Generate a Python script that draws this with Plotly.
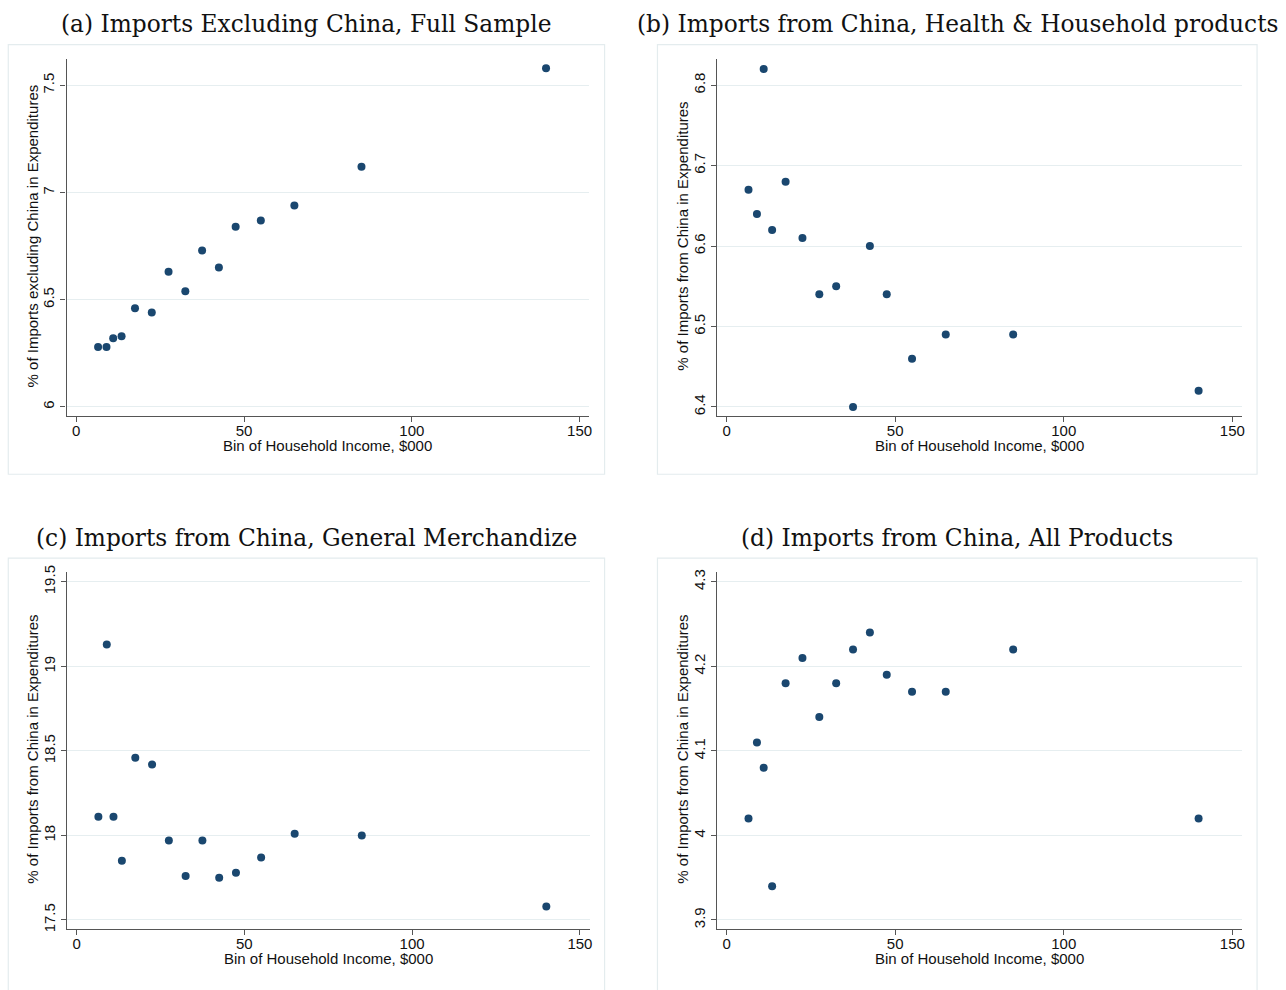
import plotly.graph_objects as go

# Household income bins ($000, bin midpoints)
income_bins = [6.5, 9, 11, 13.5, 17.5, 22.5, 27.5, 32.5, 37.5, 42.5, 47.5, 55, 65, 85, 140]

# Share of imports in expenditures (%) by income bin
imports_ex_china_full = [6.28, 6.28, 6.32, 6.33, 6.46, 6.44, 6.63, 6.54, 6.73, 6.65, 6.84, 6.87, 6.94, 7.12, 7.58]
china_health_household = [6.67, 6.64, 6.82, 6.62, 6.68, 6.61, 6.54, 6.55, 6.40, 6.60, 6.54, 6.46, 6.49, 6.49, 6.42]
china_general_merch = [18.11, 19.13, 18.11, 17.85, 18.46, 18.42, 17.97, 17.76, 17.97, 17.75, 17.78, 17.87, 18.01, 18.00, 17.58]
china_all_products = [4.02, 4.11, 4.08, 3.94, 4.18, 4.21, 4.14, 4.18, 4.22, 4.24, 4.19, 4.17, 4.17, 4.22, 4.02]

panel_titles = [
    "(a) Imports Excluding China, Full Sample",
    "(b) Imports from China, Health &amp; Household products",
    "(c) Imports from China, General Merchandize",
    "(d) Imports from China, All Products",
]
y_titles = [
    "% of Imports excluding China in Expenditures",
    "% of Imports from China in Expenditures",
    "% of Imports from China in Expenditures",
    "% of Imports from China in Expenditures",
]
x_title = "Bin of Household Income, $000"
x_ticks = [0, 50, 100, 150]
y_ticks = [
    [6, 6.5, 7, 7.5],
    [6.4, 6.5, 6.6, 6.7, 6.8],
    [17.5, 18, 18.5, 19, 19.5],
    [3.9, 4, 4.1, 4.2, 4.3],
]
y_ranges = [
    [5.957, 7.621],
    [6.3886, 6.832],
    [17.445, 19.557],
    [3.889, 4.3114],
]
series = [imports_ex_china_full, china_health_household, china_general_merch, china_all_products]

W, H = 1286, 990
NAVY = "#1a476f"
GRID = "#e6eef0"
AXIS = "#555555"
FRAME = "#e4ecee"
SANS = "Liberation Sans, Arial, sans-serif"
SERIF = "DejaVu Serif, serif"

# pixel boxes: (left, right, top, bottom) for the plot region of each panel
plot_boxes = [
    (66.7, 590.7, 53.0, 413.3),
    (718.5, 1245.0, 53.0, 413.3),
    (67.0, 591.0, 571.0, 931.7),
    (718.5, 1245.0, 571.0, 931.7),
]
frame_boxes = [
    (8.3, 606.0, 38.0, 472.0),
    (659.0, 1260.0, 38.0, 472.0),
    (8.3, 606.0, 556.7, 1000.0),
    (659.0, 1260.0, 556.7, 1000.0),
]


def px_x(v):
    return v / W


def px_y(v):
    return 1 - v / H


fig = go.Figure()
shapes = []
annotations = []

for i in range(4):
    n = i + 1
    xa = "x" if n == 1 else f"x{n}"
    ya = "y" if n == 1 else f"y{n}"
    left, right, top, bottom = plot_boxes[i]

    fig.add_trace(go.Scatter(
        x=income_bins, y=series[i], mode="markers",
        marker=dict(color=NAVY, size=8, line=dict(width=0)),
        xaxis=xa, yaxis=ya, showlegend=False, hoverinfo="x+y",
    ))

    axis_common = dict(
        showline=True, linecolor=AXIS, linewidth=1.2,
        ticks="outside", ticklen=5, tickwidth=1, tickcolor=AXIS,
        tickfont=dict(family=SANS, size=15, color="#111111"),
        zeroline=False, mirror=False,
    )
    fig.layout[f"xaxis{'' if n == 1 else n}"] = dict(
        axis_common,
        domain=[px_x(left), px_x(right)],
        range=[-2.9, 152.9],
        tickvals=x_ticks, ticktext=[str(t) for t in x_ticks],
        ticklabelstandoff=-4,
        showgrid=False,
        anchor=ya,
    )
    fig.layout[f"yaxis{'' if n == 1 else n}"] = dict(
        axis_common,
        domain=[px_y(bottom), px_y(top)],
        range=y_ranges[i],
        tickvals=y_ticks[i], ticktext=[f"{t:g}" for t in y_ticks[i]],
        tickangle=-90,
        showgrid=True, gridcolor=GRID, gridwidth=1,
        anchor=xa,
    )

    fl, fr, ft, fb = frame_boxes[i]
    shapes.append(dict(
        type="rect", xref="paper", yref="paper",
        x0=px_x(fl), x1=px_x(fr), y0=px_y(fb), y1=px_y(ft),
        line=dict(color=FRAME, width=1.2), fillcolor="rgba(0,0,0,0)", layer="below",
    ))

    # panel title
    annotations.append(dict(
        text=panel_titles[i], xref="paper", yref="paper",
        x=px_x((fl + fr) / 2), y=px_y(ft - 21), xanchor="center", yanchor="middle",
        showarrow=False, font=dict(family=SERIF, size=23.3, color="#111111"),
    ))
    # x axis title
    annotations.append(dict(
        text=x_title, xref="paper", yref="paper",
        x=px_x((left + right) / 2), y=px_y(bottom + 30), xanchor="center", yanchor="middle",
        showarrow=False, font=dict(family=SANS, size=15, color="#111111"),
    ))
    # y axis title
    annotations.append(dict(
        text=y_titles[i], xref="paper", yref="paper",
        x=px_x(left - 34), y=px_y((top + bottom) / 2 - 2), xanchor="center", yanchor="middle",
        textangle=-90,
        showarrow=False, font=dict(family=SANS, size=15, color="#111111"),
    ))

fig.update_layout(
    width=W, height=H,
    margin=dict(l=0, r=0, t=0, b=0),
    paper_bgcolor="white", plot_bgcolor="white",
    shapes=shapes, annotations=annotations,
)

fig.write_html("out.html", include_plotlyjs=True, config={"displayModeBar": False})
